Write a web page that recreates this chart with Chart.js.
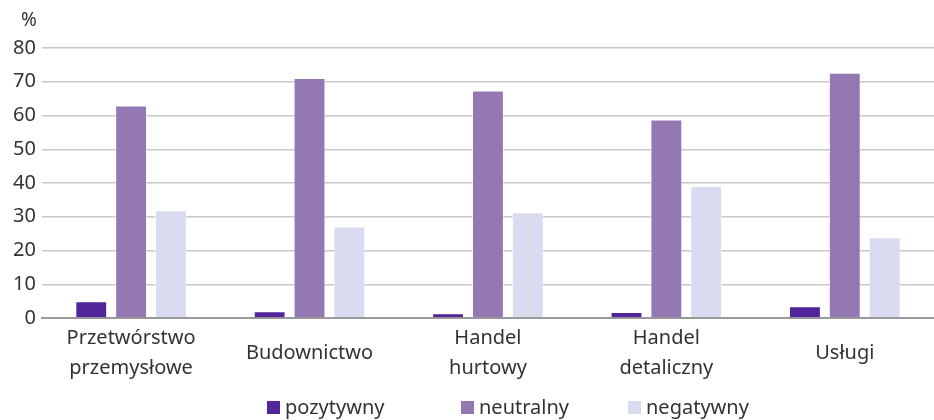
<!DOCTYPE html>
<html>
<head>
<meta charset="utf-8">
<script src="https://cdn.jsdelivr.net/npm/chart.js@4/dist/chart.umd.min.js"></script>
<style>
  html, body { margin: 0; padding: 0; background: #fff; }
  #wrap { width: 934px; height: 420px; position: relative; }
</style>
</head>
<body>
<div id="wrap"><canvas id="chart"></canvas></div>
<script>
const categories = [
  ["Przetwórstwo", "przemysłowe"],
  "Budownictwo",
  ["Handel", "hurtowy"],
  ["Handel", "detaliczny"],
  "Usługi"
];
const seriesNames = ["pozytywny", "neutralny", "negatywny"];
const pozytywny = [5.0, 2.0, 1.4, 1.8, 3.5];
const neutralny = [63.0, 71.1, 67.4, 58.8, 72.7];
const negatywny = [31.9, 27.1, 31.3, 39.1, 23.9];
const colors = ["#52259a", "#9478b4", "#d9dbf0"];
const yTicks = { min: 0, max: 80, step: 10 };
const unitLabel = "%";

const FONT = "'Noto Sans', 'Open Sans', sans-serif";
const TEXT = "#333";

/* % label above the y axis + legend drawn by hand (wide gaps) */
const extrasPlugin = {
  id: "extras",
  afterDraw(c) {
    const ctx = c.ctx;
    const y = c.scales.y;
    ctx.save();
    ctx.font = "19px " + FONT;
    ctx.fillStyle = TEXT;
    ctx.textAlign = "right";
    ctx.textBaseline = "middle";
    ctx.fillText(unitLabel, y.right - 5, 21);

    // legend
    const xs = [267, 461, 628];
    const ly = 408;
    ctx.textAlign = "left";
    ctx.font = "20px " + FONT;
    c.data.datasets.forEach((ds, i) => {
      ctx.fillStyle = ds.backgroundColor;
      ctx.fillRect(xs[i], ly - 7, 13, 13);
      ctx.fillStyle = TEXT;
      ctx.fillText(ds.label, xs[i] + 18, ly);
    });
    ctx.restore();
  }
};

const makeSet = (i, data) => ({
  label: seriesNames[i],
  data,
  backgroundColor: colors[i],
  borderColor: "rgba(255,255,255,0.5)",
  borderWidth: 1,
  categoryPercentage: 0.67,
  barPercentage: 0.8
});

new Chart(document.getElementById("chart"), {
  type: "bar",
  data: {
    labels: categories,
    datasets: [makeSet(0, pozytywny), makeSet(1, neutralny), makeSet(2, negatywny)]
  },
  options: {
    responsive: true,
    maintainAspectRatio: false,
    animation: false,
    layout: { padding: { top: 48, right: 0, left: 7, bottom: 10 } },
    scales: {
      x: {
        grid: { display: false },
        border: { color: "#999", width: 2 },
        ticks: {
          color: TEXT,
          font: { family: FONT, size: 20, lineHeight: 1.5 },
          maxRotation: 0,
          crossAlign: "center",
          padding: 12
        }
      },
      y: {
        min: yTicks.min,
        max: yTicks.max,
        ticks: {
          stepSize: yTicks.step,
          color: TEXT,
          font: { family: FONT, size: 20 },
          padding: 6
        },
        grid: { color: "#c8c8c8", lineWidth: 1.5, drawTicks: false },
        border: { display: false }
      }
    },
    plugins: {
      tooltip: { enabled: false },
      legend: { display: false }
    }
  },
  plugins: [extrasPlugin]
});
</script>
</body>
</html>
